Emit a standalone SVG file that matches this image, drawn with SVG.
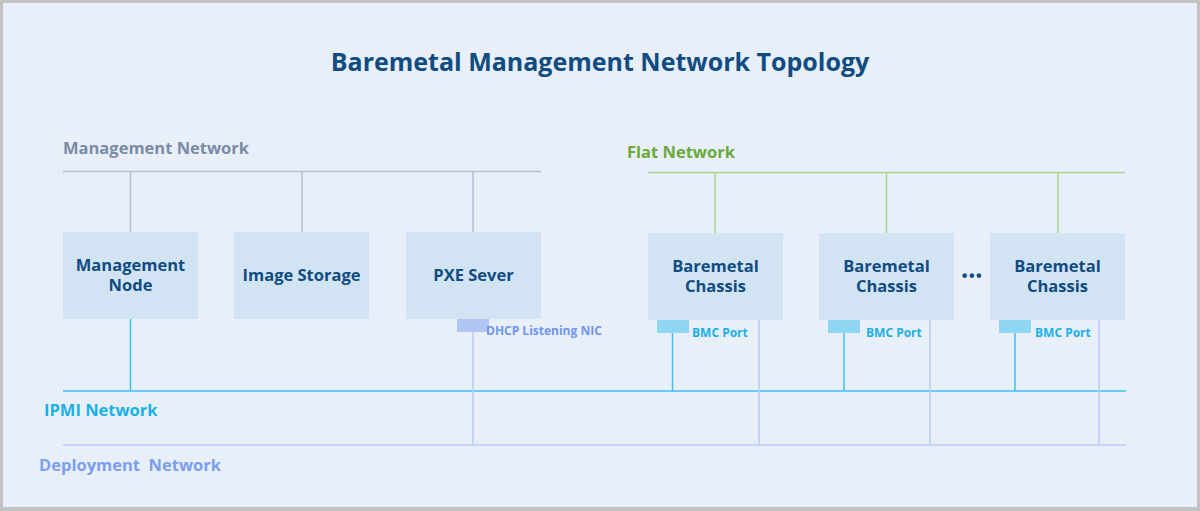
<svg xmlns="http://www.w3.org/2000/svg" width="1200" height="511" viewBox="0 0 1200 511">
<style>
.box{fill:#D2E3F4;}
.lbl{font-family:"Open Sans","Liberation Sans",sans-serif;font-weight:bold;font-size:16.5px;fill:#0F4C81;text-anchor:middle;}
.net{font-family:"Open Sans","Liberation Sans",sans-serif;font-weight:bold;font-size:16.5px;}
.port{font-family:"Open Sans","Liberation Sans",sans-serif;font-weight:bold;font-size:12px;}
.mgmt{stroke:#B3BFCF;stroke-width:1.5;fill:none;}
.flat{stroke:#A8D48C;stroke-width:1.5;fill:none;}
.ipmi{stroke:#3EC0F0;stroke-width:1.5;fill:none;}
.dep{stroke:#B8CCF3;stroke-width:1.5;fill:none;}
.bmc{fill:#8FD6F5;}
</style>
<rect x="0" y="0" width="1200" height="511" fill="#C3C3C3"/>
<rect x="3" y="3" width="1194" height="504" fill="#E9EFF9"/>
<text x="600" y="71" font-family="'Open Sans','Liberation Sans',sans-serif" font-weight="bold" font-size="25" fill="#0F4C81" text-anchor="middle">Baremetal Management Network Topology</text>

<g id="connectors">
<path class="mgmt" d="M63 171.5H541M130.5 171.5V232M302 171.5V232M473 171.5V232"/>
<path class="flat" d="M648 172.5H1125M715 172.5V233M886.5 172.5V233M1058 172.5V233"/>
<path class="ipmi" d="M130.5 319V391M672.5 333V391M844 333V391M1015 333V391"/>
<path class="ipmi" stroke-width="2" d="M63 391H1126"/>
<path class="dep" d="M473 332V445M759 320V445M930 320V445M1099 320V445"/>
<path class="dep" stroke-width="2" d="M63 445H1126"/>
</g>

<g id="network-labels">
<text class="net" x="63" y="154" fill="#7A8CA5">Management Network</text>
<text class="net" x="627" y="158" fill="#6AAA3A">Flat Network</text>
<text class="net" x="44" y="416" fill="#1AB0E8">IPMI Network</text>
<text class="net" x="39" y="471" fill="#7A9EF0" xml:space="preserve">Deployment  Network</text>
</g>

<g id="management-node">
<rect class="box" x="63" y="232" width="135" height="87"/>
<text class="lbl"><tspan x="130.5" y="271">Management</tspan><tspan x="130.5" y="291">Node</tspan></text>
</g>
<g id="image-storage">
<rect class="box" x="234" y="232" width="135" height="87"/>
<text class="lbl" x="301.5" y="281">Image Storage</text>
</g>
<g id="pxe-server">
<rect class="box" x="406" y="232" width="135" height="87"/>
<text class="lbl" x="473.5" y="281">PXE Sever</text>
<rect x="457" y="319" width="32" height="13" fill="#AFC6F5"/>
<text class="port" x="486" y="335" fill="#6E96F0" font-size="11.7">DHCP Listening NIC</text>
</g>

<g id="chassis-1">
<rect class="box" x="648" y="233" width="135" height="87"/>
<text class="lbl"><tspan x="715.5" y="271.5">Baremetal</tspan><tspan x="715.5" y="291.5">Chassis</tspan></text>
<rect class="bmc" x="657" y="320" width="32" height="13"/>
<text class="port" x="692" y="337" fill="#1AB0E8">BMC Port</text>
</g>
<g id="chassis-2">
<rect class="box" x="819" y="233" width="135" height="87"/>
<text class="lbl"><tspan x="886.5" y="271.5">Baremetal</tspan><tspan x="886.5" y="291.5">Chassis</tspan></text>
<rect class="bmc" x="828" y="320" width="32" height="13"/>
<text class="port" x="866" y="337" fill="#1AB0E8">BMC Port</text>
</g>
<g id="ellipsis">
<text x="972.5" y="281" font-family="'Liberation Sans',sans-serif" font-weight="bold" font-size="16" fill="#0F4C81" text-anchor="middle" letter-spacing="1.5">•••</text>
</g>
<g id="chassis-3">
<rect class="box" x="990" y="233" width="135" height="87"/>
<text class="lbl"><tspan x="1057.5" y="271.5">Baremetal</tspan><tspan x="1057.5" y="291.5">Chassis</tspan></text>
<rect class="bmc" x="999" y="320" width="32" height="13"/>
<text class="port" x="1035" y="337" fill="#1AB0E8">BMC Port</text>
</g>
</svg>
